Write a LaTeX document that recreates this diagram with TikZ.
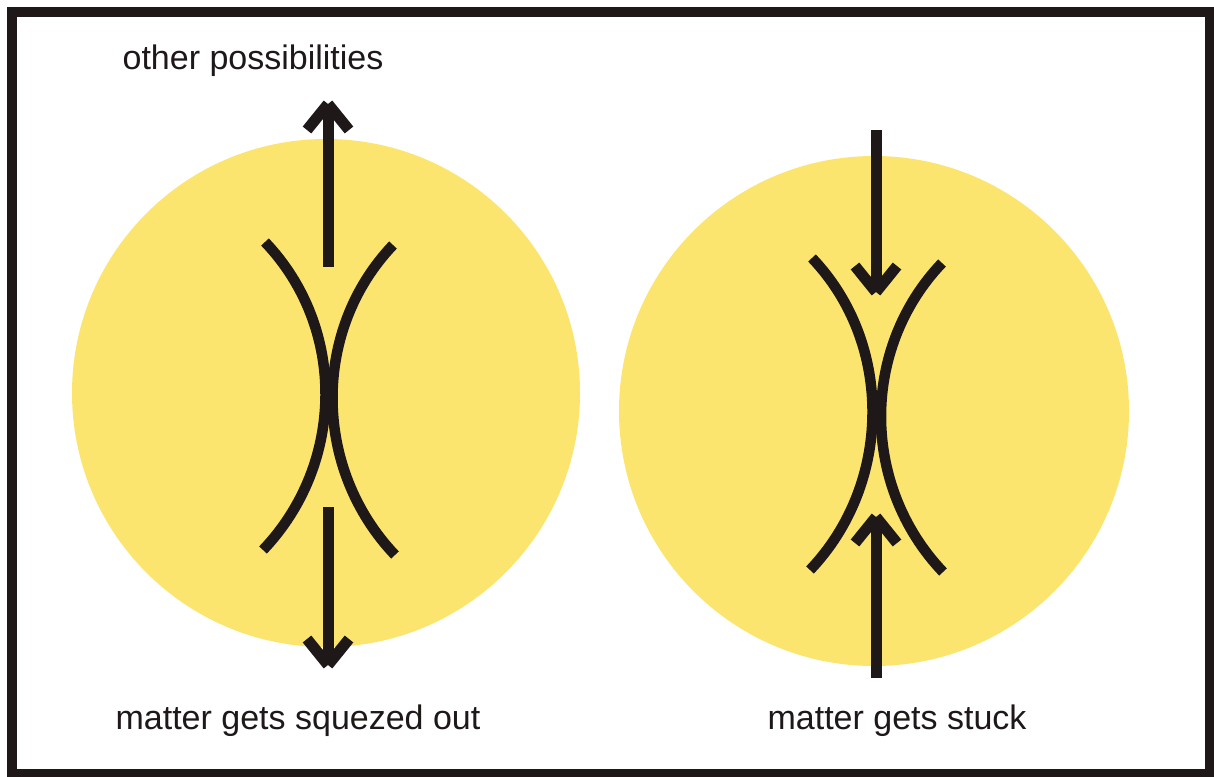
\documentclass[tikz,border=0pt]{standalone}
\usepackage{fontspec}
\setmainfont{Liberation Sans}
\usetikzlibrary{calc}
\definecolor{sun}{RGB}{252,229,110}
\definecolor{ink}{RGB}{30,24,24}
\begin{document}
\begin{tikzpicture}[x=1pt,y=-1pt,
  disc/.style={fill=sun,draw=none},
  curve/.style={draw=ink,line width=10.5pt,line cap=butt},
  shaft/.style={draw=ink,line width=11pt,line cap=butt},
  lab/.style={inner sep=0pt,anchor=base,text=ink,font=\fontsize{34}{40}\selectfont}]
\useasboundingbox (0,0) rectangle (1214,776);
\fill[white] (0,0) rectangle (1214,776);
% frame
\draw[draw=ink,line width=10pt] (12,12) rectangle (1210,774);
% discs
\fill[disc] (326,393) circle[radius=254];
\fill[disc] (874,411) circle[radius=255];
% left pair of arcs
\draw[curve] (265,242) .. controls (347,328) and (345,464) .. (263,550);
\draw[curve] (393,245) .. controls (311,331) and (313,469) .. (395,555);
% right pair of arcs
\draw[curve] (812,258) .. controls (894,344) and (892,484) .. (810,570);
\draw[curve] (942,263) .. controls (860,349) and (861,486) .. (943,572);
% left arrows (outward)
\coordinate (a1s) at (328,267); \coordinate (a1t) at (328,104);
\coordinate (a2s) at (328,507); \coordinate (a2t) at (328,665);
\draw[shaft] (a1s) -- ($(a1t)+(0,8)$);
\draw[shaft] ($(a1t)+(-21,26)$) -- (a1t) ($(a1t)+(21,26)$) -- (a1t);
\draw[shaft] (a2s) -- ($(a2t)+(0,-8)$);
\draw[shaft] ($(a2t)+(-21,-26)$) -- (a2t) ($(a2t)+(21,-26)$) -- (a2t);
% right arrows (inward)
\coordinate (b1s) at (876,130); \coordinate (b1t) at (876,292);
\coordinate (b2s) at (876,678); \coordinate (b2t) at (876,517);
\draw[shaft] (b1s) -- ($(b1t)+(0,-8)$);
\draw[shaft] ($(b1t)+(-21,-26)$) -- (b1t) ($(b1t)+(21,-26)$) -- (b1t);
\draw[shaft] (b2s) -- ($(b2t)+(0,8)$);
\draw[shaft] ($(b2t)+(-21,26)$) -- (b2t) ($(b2t)+(21,26)$) -- (b2t);
% labels
\node[lab] (top) at (253,69) {other possibilities};
\node[lab] (squeeze) at (298,729) {matter gets squezed out};
\node[lab] (stuck) at (897,729) {matter gets stuck};
\end{tikzpicture}
\end{document}
